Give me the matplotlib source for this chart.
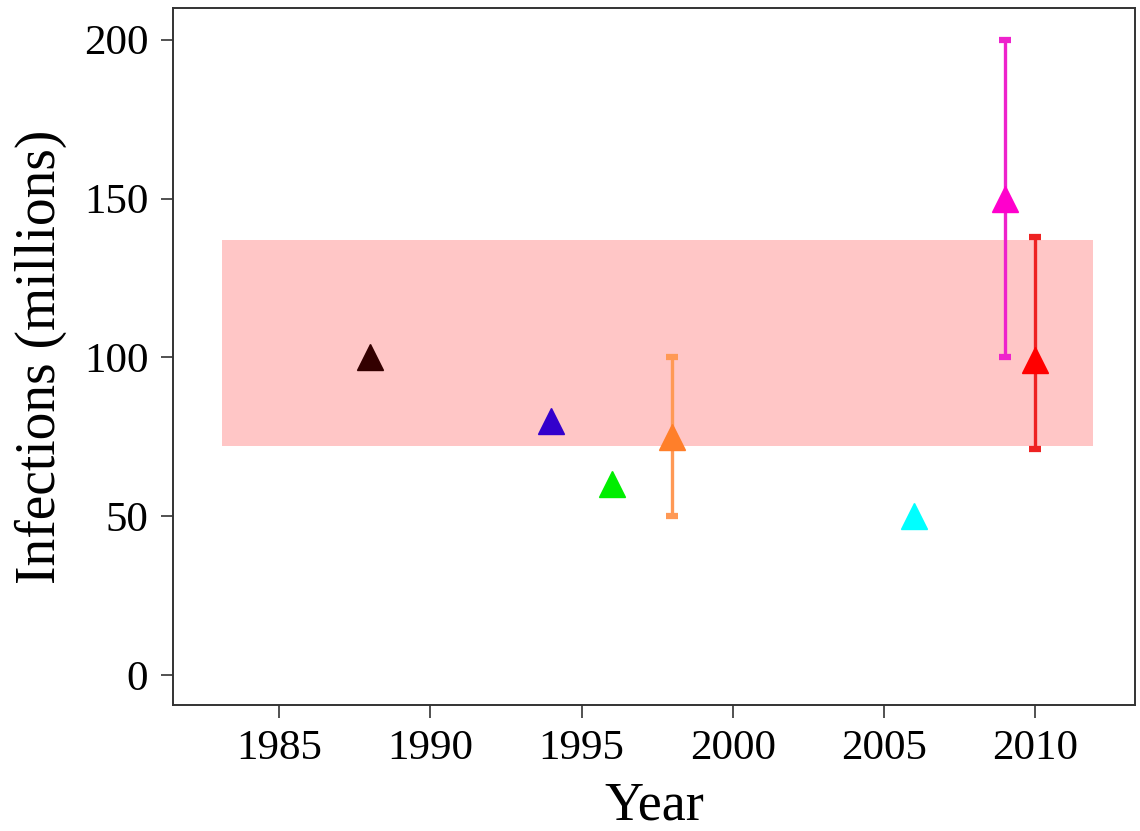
import matplotlib
matplotlib.use("Agg")
import matplotlib.pyplot as plt

# estimates by year
years = [1988, 1994, 1996, 1998, 2006, 2009, 2010]
infections = [100, 80, 60, 75, 50, 150, 99]
err_low = [None, None, None, 50, None, 100, 71]
err_high = [None, None, None, 100, None, 200, 138]
marker_colors = ["#330000", "#3300CC", "#00EE00", "#FF7F2A", "#00FFFF", "#FF00CC", "#FF0000"]
bar_colors = [None, None, None, "#FF9955", None, "#EE22CC", "#EE2222"]

# shaded range
band_x = [1983.1, 2011.9]
band_y = [72, 137]

x_ticks = [1985, 1990, 1995, 2000, 2005, 2010]
y_ticks = [0, 50, 100, 150, 200]

plt.rcParams['font.family'] = ['Liberation Serif', 'DejaVu Serif']

fig = plt.figure(figsize=(11.4, 8.31), dpi=100)
ax = fig.add_axes([0.152, 0.152, 0.8436, 0.8384])

ax.fill_between(band_x, band_y[0], band_y[1], color="#FFC6C6", lw=0, zorder=1)

for i in range(len(years)):
    if err_low[i] is not None:
        ax.plot([years[i], years[i]], [err_low[i], err_high[i]],
                color=bar_colors[i], lw=2.4, zorder=2, solid_capstyle='butt')
        ax.plot([years[i], years[i]], [err_low[i], err_high[i]], ls='none',
                marker='_', ms=8, mew=4.5, color=bar_colors[i], zorder=2)
    ax.plot(years[i], infections[i], marker='^', ms=19, color=marker_colors[i],
            mec=marker_colors[i], ls='none', zorder=3)

ax.set_xlim(1981.5, 2013.3)
ax.set_ylim(-9.4, 210)
ax.set_xticks(x_ticks)
ax.set_yticks(y_ticks)
ax.tick_params(labelsize=31, length=9, width=1.2, color="#333333", pad=9)
for s in ax.spines.values():
    s.set_linewidth(1.4)
    s.set_color("#333333")

ax.set_xlabel("Year", fontsize=39, labelpad=9)
ax.set_ylabel("Infections (millions)", fontsize=40, labelpad=12)

fig.savefig("out.png", dpi=100)
